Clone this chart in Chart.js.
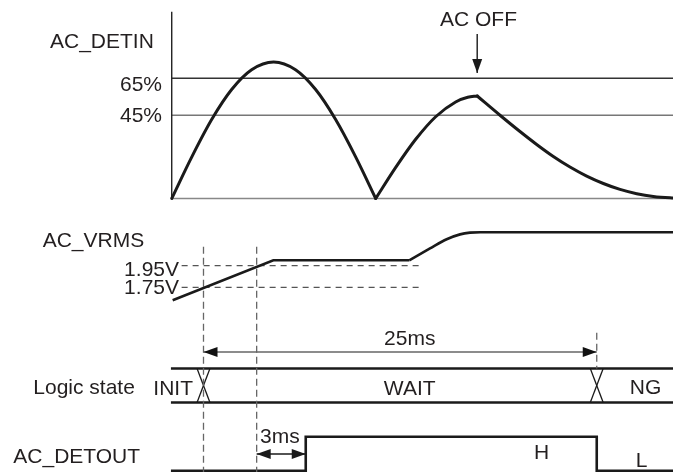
<!DOCTYPE html>
<html>
<head>
<meta charset="utf-8">
<script src="https://cdn.jsdelivr.net/npm/chart.js@4.4.1/dist/chart.umd.min.js"></script>
<style>
  html, body { margin: 0; padding: 0; background: #ffffff; }
  #wrap { width: 673px; height: 472px; }
</style>
</head>
<body>
<div id="wrap"><canvas id="c" width="673" height="472"></canvas></div>
<script>
// ---------------- DATA (time in ms, AC_DETIN in %, AC_VRMS in V) ----------------
const detinRise1 = [[-2.02,0],[-0.75,22.4],[0.52,42.7],[1.79,58.9],[3.06,69.6],[4.46,73.8],[5.85,69.6],[7.13,58.9],[8.40,42.7],[9.68,22.4],[10.95,0]];
const detinRise2 = [[10.95,0],[12.22,16.8],[13.49,32.0],[14.76,44.2],[16.03,52.2],[16.80,54.7],[17.40,55.4]];
const detinDecay = [[17.40,55.4],[18.85,45.0],[20.12,36.2],[21.18,29.2],[22.24,22.7],[23.30,17.0],[24.36,12.1],[25.42,8.1],[26.48,4.9],[27.54,2.6],[28.60,1.1],[29.66,0.35],[29.85,0.3]];
const detinTicks = [65, 45];
const detinTickLabels = ['65%', '45%'];
const acOffTime = 17.40;

const vrmsLinear = [[-1.96,1.63],[4.44,2.00],[13.08,2.00]];
const vrmsCurve = [[13.08,2.00],[14.40,2.11],[15.46,2.195],[16.31,2.24],[16.94,2.256],[17.60,2.26],[29.85,2.26]];
const vrmsTicks = [1.95, 1.75];
const vrmsTickLabels = ['1.95V', '1.75V'];
const vrmsThresholdSpan = [-1.39, 13.95];

const markerTimes = [0, 3.38];        // dashed vertical references
const windowSpan = [0, 25];           // 25ms
const states = ['INIT', 'WAIT', 'NG'];
const stateEdges = [0, 25];
const detoutT = [-2.07, 6.50, 6.50, 25.0, 25.0, 29.85];
const detoutV = [0, 0, 1, 1, 0, 0];
const delaySpan = [3.38, 6.50];       // 3ms
const timeStart = -2.07, timeEnd = 29.85;

// ---------------- helpers ----------------
const P = arr => arr.map(p => ({x: p[0], y: p[1]}));
const INK = '#1a1a1a';
const base = {pointRadius: 0, pointHoverRadius: 0, fill: false, tension: 0};

const datasets = [];
// AC_DETIN curve
[detinRise1, detinRise2, detinDecay].forEach(d => datasets.push(Object.assign({}, base, {
  data: P(d), yAxisID: 'yDet', borderColor: INK, borderWidth: 3, cubicInterpolationMode: 'monotone', borderCapStyle: 'round', borderJoinStyle: 'round'
})));
// AC OFF arrow
datasets.push(Object.assign({}, base, {data: [{x: acOffTime, y: 88.9}, {x: acOffTime, y: 67.8}], yAxisID: 'yDet', borderColor: INK, borderWidth: 1.4, arrowEnd: true}));
// AC_DETIN axis + thresholds + baseline
datasets.push(Object.assign({}, base, {data: [{x: -2.02, y: 0}, {x: -2.02, y: 101}], yAxisID: 'yDet', borderColor: '#222', borderWidth: 1.4}));
datasets.push(Object.assign({}, base, {data: [{x: -2.02, y: detinTicks[0]}, {x: timeEnd, y: detinTicks[0]}], yAxisID: 'yDet', borderColor: '#333', borderWidth: 1.3}));
datasets.push(Object.assign({}, base, {data: [{x: -2.02, y: detinTicks[1]}, {x: timeEnd, y: detinTicks[1]}], yAxisID: 'yDet', borderColor: '#777', borderWidth: 1.4}));
datasets.push(Object.assign({}, base, {data: [{x: -2.02, y: 0}, {x: timeEnd, y: 0}], yAxisID: 'yDet', borderColor: '#888', borderWidth: 1.5}));

// AC_VRMS
datasets.push(Object.assign({}, base, {data: P(vrmsLinear), yAxisID: 'yV', borderColor: INK, borderWidth: 2.6}));
datasets.push(Object.assign({}, base, {data: P(vrmsCurve), yAxisID: 'yV', borderColor: INK, borderWidth: 2.6, cubicInterpolationMode: 'monotone'}));
vrmsTicks.forEach(v => datasets.push(Object.assign({}, base, {
  data: [{x: vrmsThresholdSpan[0], y: v}, {x: vrmsThresholdSpan[1], y: v}], yAxisID: 'yV', borderColor: '#555', borderWidth: 1.3, borderDash: [6, 5]
})));
// vertical dashed markers
markerTimes.forEach(t => datasets.push(Object.assign({}, base, {
  data: [{x: t, y: 2.126}, {x: t, y: 0.0}], yAxisID: 'yV', borderColor: '#666', borderWidth: 1.3, borderDash: [7, 4]
})));
datasets.push(Object.assign({}, base, {data: [{x: windowSpan[1], y: 2.05}, {x: windowSpan[1], y: 1}], yAxisID: 'yL', borderColor: '#666', borderWidth: 1.3, borderDash: [7, 4]}));
// 25ms arrow
datasets.push(Object.assign({}, base, {data: [{x: windowSpan[0], y: 1.485}, {x: windowSpan[1], y: 1.485}], yAxisID: 'yL', borderColor: '#666', borderWidth: 1.4, arrowStart: true, arrowEnd: true, arrowColor: '#111'}));

// Logic state lanes
datasets.push(Object.assign({}, base, {data: [{x: timeStart, y: 1}, {x: timeEnd, y: 1}], yAxisID: 'yL', borderColor: INK, borderWidth: 2.6}));
datasets.push(Object.assign({}, base, {data: [{x: timeStart, y: 0}, {x: timeEnd, y: 0}], yAxisID: 'yL', borderColor: INK, borderWidth: 2.6}));
stateEdges.forEach(t => {
  datasets.push(Object.assign({}, base, {data: [{x: t - 0.41, y: 1}, {x: t + 0.41, y: 0}], yAxisID: 'yL', borderColor: INK, borderWidth: 1.3}));
  datasets.push(Object.assign({}, base, {data: [{x: t - 0.41, y: 0}, {x: t + 0.41, y: 1}], yAxisID: 'yL', borderColor: INK, borderWidth: 1.3}));
});

// AC_DETOUT
datasets.push(Object.assign({}, base, {data: detoutT.map((t, i) => ({x: t, y: detoutV[i]})), yAxisID: 'yO', borderColor: INK, borderWidth: 2.6}));
datasets.push(Object.assign({}, base, {data: [{x: delaySpan[0], y: 0.49}, {x: delaySpan[1], y: 0.49}], yAxisID: 'yO', borderColor: INK, borderWidth: 1.4, arrowStart: true, arrowEnd: true}));

// ---------------- text ----------------
const FONT = '21px "Liberation Sans", Arial, Helvetica, sans-serif';
const TEXT = '#231f20';
const textLabels = [
  {text: 'AC_DETIN', x: 50, y: 48.3, align: 'left'},
  {text: 'AC OFF', x: 478.5, y: 25.7, align: 'center'},
  {text: detinTickLabels[0], x: 162, y: 90.5, align: 'right'},
  {text: detinTickLabels[1], x: 162, y: 122, align: 'right'},
  {text: 'AC_VRMS', x: 42.7, y: 247.3, align: 'left'},
  {text: vrmsTickLabels[0], x: 179, y: 276, align: 'right'},
  {text: vrmsTickLabels[1], x: 179, y: 294, align: 'right'},
  {text: '25ms', x: 409.7, y: 345, align: 'center'},
  {text: 'Logic state', x: 33.3, y: 394.3, align: 'left'},
  {text: states[0], x: 153.3, y: 395, align: 'left'},
  {text: states[1], x: 409.7, y: 395, align: 'center'},
  {text: states[2], x: 645.5, y: 393.5, align: 'center'},
  {text: 'AC_DETOUT', x: 13.3, y: 463.3, align: 'left'},
  {text: '3ms', x: 260, y: 442.7, align: 'left'},
  {text: 'H', x: 541.7, y: 459.3, align: 'center'},
  {text: 'L', x: 641.5, y: 466.7, align: 'center'}
];

const annotate = {
  id: 'annotate',
  afterDatasetsDraw(chart) {
    const ctx = chart.ctx;
    chart.data.datasets.forEach((ds, i) => {
      if (!ds.arrowStart && !ds.arrowEnd) return;
      const pts = chart.getDatasetMeta(i).data;
      const head = (tip, from) => {
        const ang = Math.atan2(tip.y - from.y, tip.x - from.x);
        const L = 14, W = 5;
        ctx.save();
        ctx.translate(tip.x, tip.y);
        ctx.rotate(ang);
        ctx.beginPath();
        ctx.moveTo(0, 0);
        ctx.lineTo(-L, -W);
        ctx.lineTo(-L, W);
        ctx.closePath();
        ctx.fillStyle = ds.arrowColor || INK;
        ctx.fill();
        ctx.restore();
      };
      if (ds.arrowEnd) head(pts[pts.length - 1], pts[pts.length - 2]);
      if (ds.arrowStart) head(pts[0], pts[1]);
    });
  },
  afterDraw(chart) {
    const ctx = chart.ctx;
    ctx.save();
    ctx.font = FONT;
    ctx.fillStyle = TEXT;
    ctx.textBaseline = 'alphabetic';
    textLabels.forEach(l => {
      ctx.textAlign = l.align;
      ctx.fillText(l.text, l.x, l.y);
    });
    ctx.restore();
  }
};

const hidden = {display: false, grid: {display: false}};
new Chart(document.getElementById('c'), {
  type: 'line',
  data: {datasets},
  options: {
    responsive: false,
    animation: false,
    events: [],
    layout: {padding: 0},
    plugins: {legend: {display: false}, tooltip: {enabled: false}},
    scales: {
      x: Object.assign({type: 'linear', min: -12.937, max: 29.848}, hidden),
      yDet: Object.assign({type: 'linear', position: 'left', min: -147.84, max: 107.30}, hidden),
      yV: Object.assign({type: 'linear', position: 'left', min: 0.040, max: 4.410}, hidden),
      yL: Object.assign({type: 'linear', position: 'left', min: -2.044, max: 11.838}, hidden),
      yO: Object.assign({type: 'linear', position: 'left', min: -0.038, max: 13.844}, hidden)
    }
  },
  plugins: [annotate]
});
</script>
</body>
</html>
